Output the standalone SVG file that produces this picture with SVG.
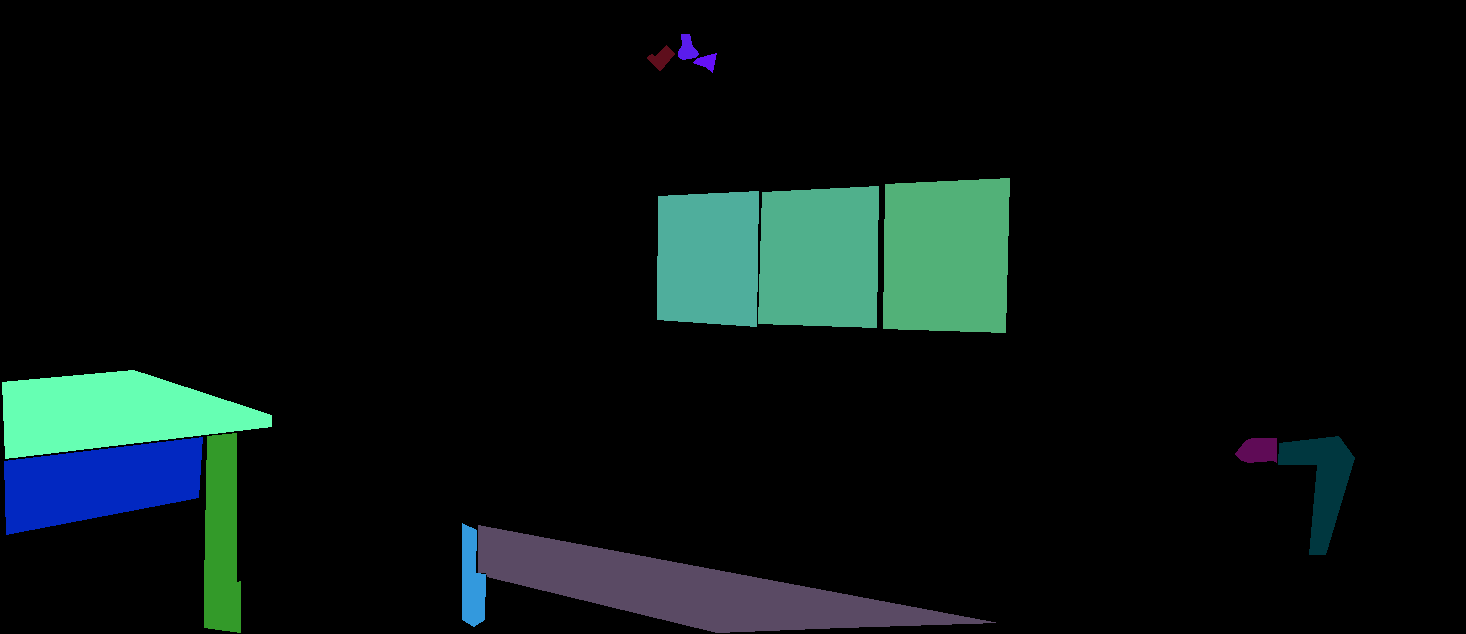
<svg xmlns="http://www.w3.org/2000/svg" width="1466" height="634" viewBox="0 0 1466 634">
<style>
.s{shape-rendering:crispEdges}
</style>
<rect x="0" y="0" width="1466" height="634" fill="#000000"/>
<g id="window1"><polygon class="s" points="658,196 759,191 757,327 657,320" fill="#4fae9c"/></g>
<g id="window2"><polygon class="s" points="762,192 879,186 877,328 758,324" fill="#50b08c"/></g>
<g id="window3"><polygon class="s" points="885,184 1010,178 1006,333 883,329" fill="#52b178"/></g>
<g id="table-top"><polygon class="s" points="2,382 133,370 143,373 272,415 272,427 5,459" fill="#66ffb3"/></g>
<g id="table-side"><polygon class="s" points="4,461 203,437 199,498 6,535" fill="#0228c1"/></g>
<g id="table-leg"><polygon class="s" points="207,436 237,433 237,582 241,581 241,633 204,628 204,585" fill="#339a29"/></g>
<g id="bed-post"><polygon class="s" points="462,523 477,530 476,573 486,574 485,620 474,627 462,620" fill="#3399dd"/></g>
<g id="bed"><polygon class="s" points="478,525 999,623 843,628 717,633 487,577 486,573 478,573" fill="#5a4a64"/></g>
<g id="item-red"><polygon class="s" points="647,57 652,54 655,57 666,45 675,54 660,72 647,59" fill="#5e0e1c"/></g>
<g id="item-bottle"><polygon class="s" points="681,34 690,34 693,47 698,51 699,55 695,58 683,60 678,57 678,52 682,45" fill="#5a1cec"/></g>
<g id="item-violet"><polygon class="s" points="692,63 698,58 717,53 713,73 705,67" fill="#6510f8"/></g>
<g id="lamp-shade"><polygon class="s" points="1235,454 1245,441 1252,438 1277,438 1277,463 1273,461 1248,463 1240,460" fill="#5f0b56"/></g>
<g id="lamp-arm"><polygon class="s" points="1279,443 1339,436 1355,458 1326,555 1309,555 1317,465 1278,465" fill="#00373f"/></g>
<g id="connectors"></g>
</svg>
